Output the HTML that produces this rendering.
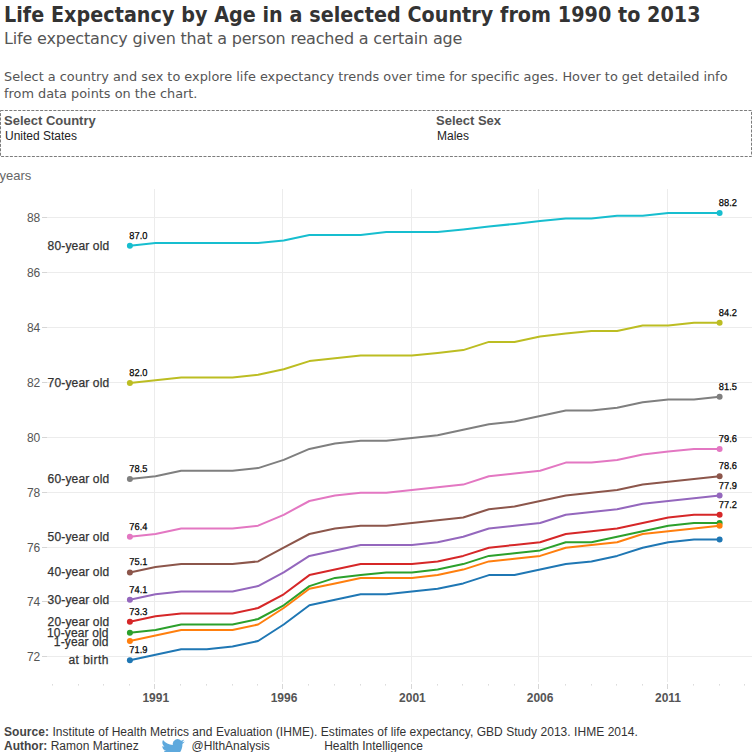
<!DOCTYPE html>
<html lang="en"><head><meta charset="utf-8"><title>Life Expectancy by Age</title>
<style>
html,body{margin:0;padding:0;background:#fff;}
body{width:752px;height:752px;overflow:hidden;position:relative;font-family:"Liberation Sans",Arial,sans-serif;}
.abs{position:absolute;white-space:nowrap;line-height:1;}
#title{left:4px;top:4px;font-family:"DejaVu Sans Condensed","Liberation Sans",sans-serif;font-size:21.3px;font-weight:bold;color:#333;letter-spacing:0.04px;}
#sub{left:4px;top:31.1px;font-family:"DejaVu Sans","Liberation Sans",sans-serif;font-size:16px;color:#555;letter-spacing:-0.18px;}
#desc{left:4px;top:69px;font-family:"DejaVu Sans","Liberation Sans",sans-serif;font-size:12.87px;color:#555;line-height:16.6px;white-space:nowrap;}
.fl{font-size:13px;font-weight:bold;color:#525252;}
.fv{font-size:12px;color:#222;}
#years{left:-0.5px;top:169px;font-size:13px;color:#666;}
#foot1{left:4px;top:726.3px;font-size:12px;color:#333;letter-spacing:0.045px;}
#foot2{left:4px;top:740.3px;font-size:12px;color:#333;}
#foot1 b,#foot2 b{color:#444;}
.ft{font-size:12px;color:#333;}
svg text{font-family:"Liberation Sans",Arial,sans-serif;}
.yl{font-size:12px;fill:#555;}
.xl{font-size:12px;font-weight:bold;fill:#555;}
.sl{font-size:12px;fill:#333;stroke:#333;stroke-width:0.25px;letter-spacing:0.15px;}
.dl{font-size:10px;fill:#000;stroke:#000;stroke-width:0.25px;text-rendering:geometricPrecision;}
</style></head><body>
<div id="title" class="abs">Life Expectancy by Age in a selected Country from 1990 to 2013</div>
<div id="sub" class="abs">Life expectancy given that a person reached a certain age</div>
<div id="desc" class="abs">Select a country and sex to explore life expectancy trends over time for specific ages. Hover to get detailed info<br>from data points on the chart.</div>
<svg class="abs" style="left:0;top:110px" width="752" height="47"><rect x="0.5" y="0.5" width="751" height="46" fill="none" stroke="#7c7c7c" stroke-width="1" stroke-dasharray="3 1.4"/></svg>
<div class="abs fl" style="left:4px;top:113.6px">Select Country</div>
<div class="abs fv" style="left:5px;top:130px">United States</div>
<div class="abs fl" style="left:436px;top:113.6px">Select Sex</div>
<div class="abs fv" style="left:437px;top:130px">Males</div>
<div id="years" class="abs">years</div>
<svg class="abs" style="left:0;top:0" width="752" height="752" viewBox="0 0 752 752">
<rect x="47" y="217" width="705" height="1" fill="#ececec"/>
<rect x="42" y="217" width="5" height="1" fill="#d6d6d6"/>
<text x="40.3" y="221.8" text-anchor="end" class="yl">88</text>
<rect x="47" y="272" width="705" height="1" fill="#ececec"/>
<rect x="42" y="272" width="5" height="1" fill="#d6d6d6"/>
<text x="40.3" y="276.8" text-anchor="end" class="yl">86</text>
<rect x="47" y="327" width="705" height="1" fill="#ececec"/>
<rect x="42" y="327" width="5" height="1" fill="#d6d6d6"/>
<text x="40.3" y="331.8" text-anchor="end" class="yl">84</text>
<rect x="47" y="382" width="705" height="1" fill="#ececec"/>
<rect x="42" y="382" width="5" height="1" fill="#d6d6d6"/>
<text x="40.3" y="386.8" text-anchor="end" class="yl">82</text>
<rect x="47" y="437" width="705" height="1" fill="#ececec"/>
<rect x="42" y="437" width="5" height="1" fill="#d6d6d6"/>
<text x="40.3" y="441.8" text-anchor="end" class="yl">80</text>
<rect x="47" y="492" width="705" height="1" fill="#ececec"/>
<rect x="42" y="492" width="5" height="1" fill="#d6d6d6"/>
<text x="40.3" y="496.8" text-anchor="end" class="yl">78</text>
<rect x="47" y="547" width="705" height="1" fill="#ececec"/>
<rect x="42" y="547" width="5" height="1" fill="#d6d6d6"/>
<text x="40.3" y="551.8" text-anchor="end" class="yl">76</text>
<rect x="47" y="601" width="705" height="1" fill="#ececec"/>
<rect x="42" y="601" width="5" height="1" fill="#d6d6d6"/>
<text x="40.3" y="605.8" text-anchor="end" class="yl">74</text>
<rect x="47" y="656" width="705" height="1" fill="#ececec"/>
<rect x="42" y="656" width="5" height="1" fill="#d6d6d6"/>
<text x="40.3" y="660.8" text-anchor="end" class="yl">72</text>
<rect x="154" y="189" width="1" height="493" fill="#ececec"/>
<rect x="154" y="684" width="1" height="5" fill="#d6d6d6"/>
<rect x="282" y="189" width="1" height="493" fill="#ececec"/>
<rect x="282" y="684" width="1" height="5" fill="#d6d6d6"/>
<rect x="411" y="189" width="1" height="493" fill="#ececec"/>
<rect x="411" y="684" width="1" height="5" fill="#d6d6d6"/>
<rect x="538" y="189" width="1" height="493" fill="#ececec"/>
<rect x="538" y="684" width="1" height="5" fill="#d6d6d6"/>
<rect x="667" y="189" width="1" height="493" fill="#ececec"/>
<rect x="667" y="684" width="1" height="5" fill="#d6d6d6"/>
<rect x="52" y="684" width="1" height="1.6" fill="#dcdcdc"/>
<rect x="78" y="684" width="1" height="1.6" fill="#dcdcdc"/>
<rect x="103" y="684" width="1" height="1.6" fill="#dcdcdc"/>
<rect x="129" y="684" width="1" height="1.6" fill="#dcdcdc"/>
<rect x="180" y="684" width="1" height="1.6" fill="#dcdcdc"/>
<rect x="206" y="684" width="1" height="1.6" fill="#dcdcdc"/>
<rect x="232" y="684" width="1" height="1.6" fill="#dcdcdc"/>
<rect x="257" y="684" width="1" height="1.6" fill="#dcdcdc"/>
<rect x="308" y="684" width="1" height="1.6" fill="#dcdcdc"/>
<rect x="334" y="684" width="1" height="1.6" fill="#dcdcdc"/>
<rect x="360" y="684" width="1" height="1.6" fill="#dcdcdc"/>
<rect x="385" y="684" width="1" height="1.6" fill="#dcdcdc"/>
<rect x="437" y="684" width="1" height="1.6" fill="#dcdcdc"/>
<rect x="462" y="684" width="1" height="1.6" fill="#dcdcdc"/>
<rect x="488" y="684" width="1" height="1.6" fill="#dcdcdc"/>
<rect x="514" y="684" width="1" height="1.6" fill="#dcdcdc"/>
<rect x="565" y="684" width="1" height="1.6" fill="#dcdcdc"/>
<rect x="591" y="684" width="1" height="1.6" fill="#dcdcdc"/>
<rect x="616" y="684" width="1" height="1.6" fill="#dcdcdc"/>
<rect x="642" y="684" width="1" height="1.6" fill="#dcdcdc"/>
<rect x="693" y="684" width="1" height="1.6" fill="#dcdcdc"/>
<rect x="719" y="684" width="1" height="1.6" fill="#dcdcdc"/>
<rect x="744" y="684" width="1" height="1.6" fill="#dcdcdc"/>
<text x="155.8" y="702" text-anchor="middle" class="xl">1991</text>
<text x="284.0" y="702" text-anchor="middle" class="xl">1996</text>
<text x="412.4" y="702" text-anchor="middle" class="xl">2001</text>
<text x="540.1" y="702" text-anchor="middle" class="xl">2006</text>
<text x="668.0" y="702" text-anchor="middle" class="xl">2011</text>
<polyline points="129.9,245.8 155.5,243.1 181.2,243.1 206.8,243.1 232.5,243.1 258.1,243.1 283.7,240.4 309.4,234.9 335.0,234.9 360.7,234.9 386.3,232.1 411.9,232.1 437.6,232.1 463.2,229.4 488.9,226.6 514.5,223.9 540.1,221.1 565.8,218.4 591.4,218.4 617.1,215.7 642.7,215.7 668.3,212.9 694.0,212.9 719.6,212.9" fill="none" stroke="#17becf" stroke-width="2" stroke-linejoin="round" stroke-linecap="round"/>
<circle cx="129.9" cy="245.8" r="3" fill="#17becf"/>
<circle cx="719.6" cy="212.9" r="3" fill="#17becf"/>
<polyline points="129.9,383.0 155.5,380.3 181.2,377.6 206.8,377.6 232.5,377.6 258.1,374.8 283.7,369.3 309.4,361.1 335.0,358.3 360.7,355.6 386.3,355.6 411.9,355.6 437.6,352.9 463.2,350.1 488.9,341.9 514.5,341.9 540.1,336.4 565.8,333.6 591.4,330.9 617.1,330.9 642.7,325.4 668.3,325.4 694.0,322.7 719.6,322.7" fill="none" stroke="#bcbd22" stroke-width="2" stroke-linejoin="round" stroke-linecap="round"/>
<circle cx="129.9" cy="383.0" r="3" fill="#bcbd22"/>
<circle cx="719.6" cy="322.7" r="3" fill="#bcbd22"/>
<polyline points="129.9,479.1 155.5,476.3 181.2,470.8 206.8,470.8 232.5,470.8 258.1,468.1 283.7,459.9 309.4,448.9 335.0,443.4 360.7,440.7 386.3,440.7 411.9,437.9 437.6,435.2 463.2,429.7 488.9,424.2 514.5,421.5 540.1,416.0 565.8,410.5 591.4,410.5 617.1,407.7 642.7,402.2 668.3,399.5 694.0,399.5 719.6,396.8" fill="none" stroke="#7f7f7f" stroke-width="2" stroke-linejoin="round" stroke-linecap="round"/>
<circle cx="129.9" cy="479.1" r="3" fill="#7f7f7f"/>
<circle cx="719.6" cy="396.8" r="3" fill="#7f7f7f"/>
<polyline points="129.9,536.7 155.5,534.0 181.2,528.5 206.8,528.5 232.5,528.5 258.1,525.7 283.7,514.8 309.4,501.0 335.0,495.5 360.7,492.8 386.3,492.8 411.9,490.1 437.6,487.3 463.2,484.6 488.9,476.3 514.5,473.6 540.1,470.8 565.8,462.6 591.4,462.6 617.1,459.9 642.7,454.4 668.3,451.6 694.0,448.9 719.6,448.9" fill="none" stroke="#e377c2" stroke-width="2" stroke-linejoin="round" stroke-linecap="round"/>
<circle cx="129.9" cy="536.7" r="3" fill="#e377c2"/>
<circle cx="719.6" cy="448.9" r="3" fill="#e377c2"/>
<polyline points="129.9,572.4 155.5,566.9 181.2,564.1 206.8,564.1 232.5,564.1 258.1,561.4 283.7,547.7 309.4,534.0 335.0,528.5 360.7,525.7 386.3,525.7 411.9,523.0 437.6,520.2 463.2,517.5 488.9,509.3 514.5,506.5 540.1,501.0 565.8,495.5 591.4,492.8 617.1,490.1 642.7,484.6 668.3,481.8 694.0,479.1 719.6,476.3" fill="none" stroke="#8c564b" stroke-width="2" stroke-linejoin="round" stroke-linecap="round"/>
<circle cx="129.9" cy="572.4" r="3" fill="#8c564b"/>
<circle cx="719.6" cy="476.3" r="3" fill="#8c564b"/>
<polyline points="129.9,599.8 155.5,594.3 181.2,591.6 206.8,591.6 232.5,591.6 258.1,586.1 283.7,572.4 309.4,555.9 335.0,550.4 360.7,544.9 386.3,544.9 411.9,544.9 437.6,542.2 463.2,536.7 488.9,528.5 514.5,525.7 540.1,523.0 565.8,514.8 591.4,512.0 617.1,509.3 642.7,503.8 668.3,501.0 694.0,498.3 719.6,495.5" fill="none" stroke="#9467bd" stroke-width="2" stroke-linejoin="round" stroke-linecap="round"/>
<circle cx="129.9" cy="599.8" r="3" fill="#9467bd"/>
<circle cx="719.6" cy="495.5" r="3" fill="#9467bd"/>
<polyline points="129.9,621.8 155.5,616.3 181.2,613.5 206.8,613.5 232.5,613.5 258.1,608.0 283.7,594.3 309.4,575.1 335.0,569.6 360.7,564.1 386.3,564.1 411.9,564.1 437.6,561.4 463.2,555.9 488.9,547.7 514.5,544.9 540.1,542.2 565.8,534.0 591.4,531.2 617.1,528.5 642.7,523.0 668.3,517.5 694.0,514.8 719.6,514.8" fill="none" stroke="#d62728" stroke-width="2" stroke-linejoin="round" stroke-linecap="round"/>
<circle cx="129.9" cy="621.8" r="3" fill="#d62728"/>
<circle cx="719.6" cy="514.8" r="3" fill="#d62728"/>
<polyline points="129.9,632.7 155.5,630.0 181.2,624.5 206.8,624.5 232.5,624.5 258.1,619.0 283.7,605.3 309.4,586.1 335.0,577.9 360.7,575.1 386.3,572.4 411.9,572.4 437.6,569.6 463.2,564.1 488.9,555.9 514.5,553.2 540.1,550.4 565.8,542.2 591.4,542.2 617.1,536.7 642.7,531.2 668.3,525.7 694.0,523.0 719.6,523.0" fill="none" stroke="#2ca02c" stroke-width="2" stroke-linejoin="round" stroke-linecap="round"/>
<circle cx="129.9" cy="632.7" r="3" fill="#2ca02c"/>
<circle cx="719.6" cy="523.0" r="3" fill="#2ca02c"/>
<polyline points="129.9,641.0 155.5,635.5 181.2,630.0 206.8,630.0 232.5,630.0 258.1,624.5 283.7,608.0 309.4,588.8 335.0,583.4 360.7,577.9 386.3,577.9 411.9,577.9 437.6,575.1 463.2,569.6 488.9,561.4 514.5,558.7 540.1,555.9 565.8,547.7 591.4,544.9 617.1,542.2 642.7,534.0 668.3,531.2 694.0,528.5 719.6,525.7" fill="none" stroke="#ff7f0e" stroke-width="2" stroke-linejoin="round" stroke-linecap="round"/>
<circle cx="129.9" cy="641.0" r="3" fill="#ff7f0e"/>
<circle cx="719.6" cy="525.7" r="3" fill="#ff7f0e"/>
<polyline points="129.9,660.2 155.5,654.7 181.2,649.2 206.8,649.2 232.5,646.5 258.1,641.0 283.7,624.5 309.4,605.3 335.0,599.8 360.7,594.3 386.3,594.3 411.9,591.6 437.6,588.8 463.2,583.4 488.9,575.1 514.5,575.1 540.1,569.6 565.8,564.1 591.4,561.4 617.1,555.9 642.7,547.7 668.3,542.2 694.0,539.4 719.6,539.4" fill="none" stroke="#1f77b4" stroke-width="2" stroke-linejoin="round" stroke-linecap="round"/>
<circle cx="129.9" cy="660.2" r="3" fill="#1f77b4"/>
<circle cx="719.6" cy="539.4" r="3" fill="#1f77b4"/>
<text x="109.3" y="249.7" text-anchor="end" class="sl">80-year old</text>
<text transform="translate(129.3,238.8) scale(0.93,1)" class="dl">87.0</text>
<text transform="translate(718.8,205.9) scale(0.93,1)" class="dl">88.2</text>
<text x="109.3" y="386.9" text-anchor="end" class="sl">70-year old</text>
<text transform="translate(129.3,376.0) scale(0.93,1)" class="dl">82.0</text>
<text transform="translate(718.8,315.7) scale(0.93,1)" class="dl">84.2</text>
<text x="109.3" y="483.0" text-anchor="end" class="sl">60-year old</text>
<text transform="translate(129.3,472.1) scale(0.93,1)" class="dl">78.5</text>
<text transform="translate(718.8,389.8) scale(0.93,1)" class="dl">81.5</text>
<text x="109.3" y="540.6" text-anchor="end" class="sl">50-year old</text>
<text transform="translate(129.3,529.7) scale(0.93,1)" class="dl">76.4</text>
<text transform="translate(718.8,441.9) scale(0.93,1)" class="dl">79.6</text>
<text x="109.3" y="576.3" text-anchor="end" class="sl">40-year old</text>
<text transform="translate(129.3,565.4) scale(0.93,1)" class="dl">75.1</text>
<text transform="translate(718.8,469.3) scale(0.93,1)" class="dl">78.6</text>
<text x="109.3" y="603.7" text-anchor="end" class="sl">30-year old</text>
<text transform="translate(129.3,592.8) scale(0.93,1)" class="dl">74.1</text>
<text transform="translate(718.8,488.5) scale(0.93,1)" class="dl">77.9</text>
<text x="109.3" y="625.7" text-anchor="end" class="sl">20-year old</text>
<text transform="translate(129.3,614.8) scale(0.93,1)" class="dl">73.3</text>
<text transform="translate(718.8,507.8) scale(0.93,1)" class="dl">77.2</text>
<text x="108.7" y="636.6" text-anchor="end" class="sl">10-year old</text>
<text x="108.7" y="645.6" text-anchor="end" class="sl">1-year old</text>
<text x="108.8" y="664.1" text-anchor="end" class="sl" style="letter-spacing:0.45px">at birth</text>
<text transform="translate(129.3,653.2) scale(0.93,1)" class="dl">71.9</text>
<path d="M23.953 4.57a10 10 0 01-2.825.775 4.958 4.958 0 002.163-2.723c-.951.555-2.005.959-3.127 1.184a4.92 4.92 0 00-8.384 4.482C7.69 8.095 4.067 6.13 1.64 3.162a4.822 4.822 0 00-.666 2.475c0 1.71.87 3.213 2.188 4.096a4.904 4.904 0 01-2.228-.616v.06a4.923 4.923 0 003.946 4.827 4.996 4.996 0 01-2.212.085 4.936 4.936 0 004.604 3.417 9.867 9.867 0 01-6.102 2.105c-.39 0-.779-.023-1.17-.067a13.995 13.995 0 007.557 2.209c9.053 0 13.998-7.496 13.998-13.985 0-.21 0-.42-.015-.63A9.935 9.935 0 0024 4.59z" fill="#5ea9dd" transform="translate(161.4,737.0) scale(0.975)"/>
</svg>
<div id="foot1" class="abs"><b>Source:</b> Institute of Health Metrics and Evaluation (IHME). Estimates of life expectancy, GBD Study 2013. IHME 2014.</div>
<div id="foot2" class="abs"><b>Author:</b> Ramon Martinez</div>
<div class="abs ft" style="left:191.6px;top:740.3px">@HlthAnalysis</div>
<div class="abs ft" style="left:324.2px;top:740.3px">Health Intelligence</div>
</body></html>
